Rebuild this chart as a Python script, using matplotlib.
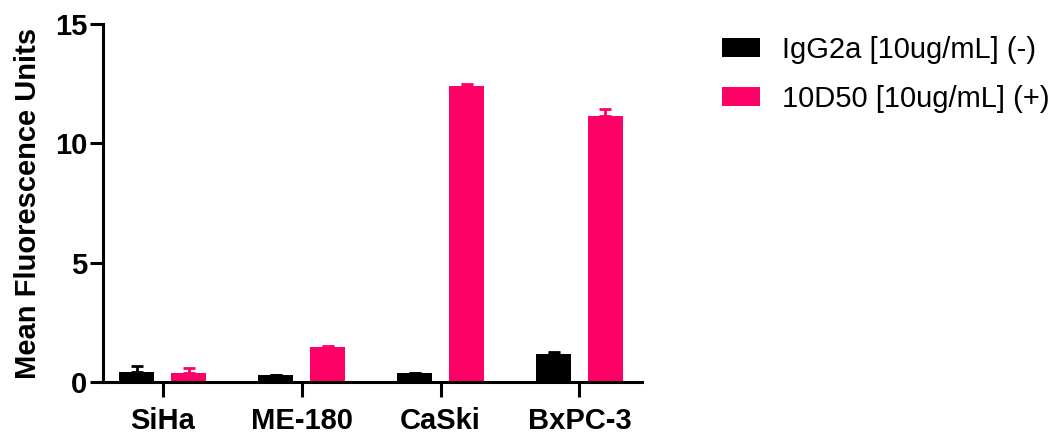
import numpy as np
import matplotlib
matplotlib.use('Agg')
import matplotlib.pyplot as plt

plt.rcParams['font.family'] = ['Liberation Sans', 'DejaVu Sans']

# cell lines and mean fluorescence (upper error only)
lineas = ['SiHa', 'ME-180', 'CaSki', 'BxPC-3']
igg2a = [0.40, 0.29, 0.36, 1.17]
igg2a_err = [0.26, 0.02, 0.03, 0.09]
d10d50 = [0.39, 1.47, 12.40, 11.14]
d10d50_err = [0.18, 0.05, 0.08, 0.30]

rosa = '#FF0066'
x = np.arange(len(lineas))
ancho = 0.25
sep = 0.187
fs = 21

fig = plt.figure(figsize=(10.62, 4.34), dpi=100)
ax = fig.add_axes([103/1062, 52/434, 539/1062, 358/434])

cero = np.zeros(len(lineas))
ax.bar(x - sep, igg2a, ancho, color='black', label='IgG2a [10ug/mL] (-)',
       yerr=[cero, igg2a_err], error_kw=dict(ecolor='black', elinewidth=2, capsize=4.5, capthick=2))
ax.bar(x + sep, d10d50, ancho, color=rosa, label='10D50 [10ug/mL] (+)',
       yerr=[cero, d10d50_err], error_kw=dict(ecolor=rosa, elinewidth=2, capsize=4.5, capthick=2))

ax.set_xlim(-0.43, 3.45)
ax.set_ylim(0, 15)
ax.set_yticks([0, 5, 10, 15])
ax.set_xticks(x)
ax.set_xticklabels(lineas)

for s in ['top', 'right']:
    ax.spines[s].set_visible(False)
for s in ['left', 'bottom']:
    ax.spines[s].set_linewidth(2.2)

ax.tick_params(axis='y', length=9.5, width=2.2, labelsize=fs, pad=2)
ax.tick_params(axis='x', length=11, width=2.2, labelsize=fs, pad=7)
for t in ax.get_xticklabels() + ax.get_yticklabels():
    t.set_fontweight('bold')

ax.set_ylabel('Mean Fluorescence Units', fontsize=fs, fontweight='bold', labelpad=9)

fig.legend(loc='upper left', bbox_to_anchor=(722/1062, 1 - 36/434), frameon=False,
           fontsize=fs, handlelength=1.3, handleheight=0.62, handletextpad=0.76,
           labelspacing=0.72, borderaxespad=0, borderpad=0)

fig.savefig('out.png', dpi=100)
